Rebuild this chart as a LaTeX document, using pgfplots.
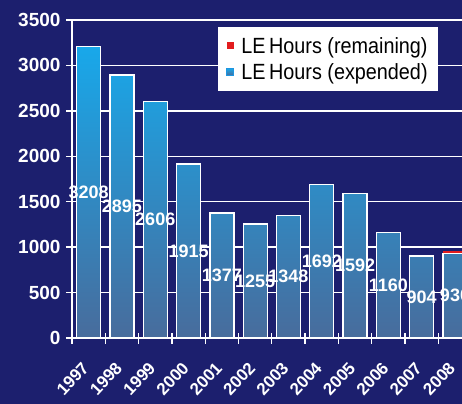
\documentclass[border=0pt]{standalone}
\usepackage{fontspec}
\setmainfont{Liberation Sans}
\newfontfamily\narrowfont[FakeStretch=0.9]{Liberation Sans}
\usepackage{pgfplots}
\usepackage{pgfplotstable}
\pgfplotsset{compat=1.18}
\usetikzlibrary{backgrounds}
\definecolor{navy}{RGB}{28,31,110}
\definecolor{bartop}{RGB}{24,168,234}
\definecolor{barbot}{RGB}{72,108,156}
\definecolor{remred}{RGB}{226,28,30}
\definecolor{legblue}{RGB}{30,150,225}

\pgfplotstableread{
x y
0 3208
1 2895
2 2606
3 1915
4 1377
5 1255
6 1348
7 1692
8 1592
9 1160
10 904
11 930
}\expended

\pgfplotstableread{
x y
11 960
}\remaining

\begin{document}
\begin{tikzpicture}
\begin{axis}[
  at={(0bp,0bp)}, anchor=south west,
  scale only axis, width=390bp, height=318bp,
  xmin=-0.5, xmax=11.21, ymin=0, ymax=3500,
  axis x line*=bottom, axis y line*=left,
  axis line style={white, line width=1.3bp},
  ytick={0,500,...,3500},
  ymajorgrids, grid style={white, line width=1.3bp},
  xtick={0,...,11},
  xticklabels={1997,1998,1999,2000,2001,2002,2003,2004,2005,2006,2007,2008},
  minor xtick={-0.5,0.5,...,10.5},
  major x tick style={draw=none},
  tick style={white, line width=1.3bp},
  tick align=center,
  major tick length=12bp, minor tick length=11bp,
  /pgf/number format/assume math mode=true,
  /pgf/number format/1000 sep={},
  yticklabel style={white, font=\bfseries\fontsize{19bp}{19bp}\selectfont, xshift=-2bp},
  xticklabel style={white, xshift=-3bp, yshift=-21bp, rotate=47, anchor=east, inner sep=0pt,
    font=\bfseries\fontsize{17bp}{17bp}\selectfont},
  legend style={at={(0.938,0.978)}, anchor=north east, fill=white, draw=none,
    font=\narrowfont\fontsize{22bp}{24bp}\selectfont, inner xsep=8bp, inner ysep=8bp,
    row sep=5bp, /tikz/every odd column/.append style={column sep=5bp}},
  legend cell align=left,
]
\addplot[ybar, bar width=24bp, bar shift=0pt, fill=remred, draw=none,
  legend image code/.code={\fill[remred] (0bp,-3bp) rectangle (7bp,4bp);}]
  table[x=x, y=y] {\remaining};
\addlegendentry{LE\,Hours (remaining)}
\addplot[ybar, bar width=24bp, bar shift=0pt, draw=white, line width=1.3bp,
  top color=bartop, bottom color=barbot,
  legend image code/.code={\fill[legblue] (0bp,-3bp) rectangle (7bp,4bp);}]
  table[x=x, y=y] {\expended};
\addlegendentry{LE\,Hours (expended)}
\addplot[draw=none, mark=none, forget plot, nodes near coords,
  point meta=explicit symbolic,
  nodes near coords style={anchor=center, white, font=\bfseries\fontsize{18bp}{18bp}\selectfont}]
  table[x=x, y expr=\thisrow{y}/2, meta=y] {\expended};
\end{axis}
\begin{scope}[on background layer]
\fill[navy] (-72bp,-66bp) rectangle (390bp,338bp);
\end{scope}
\pgfresetboundingbox
\path[use as bounding box] (-72bp,-66bp) rectangle (390bp,338bp);
\end{tikzpicture}
\end{document}
